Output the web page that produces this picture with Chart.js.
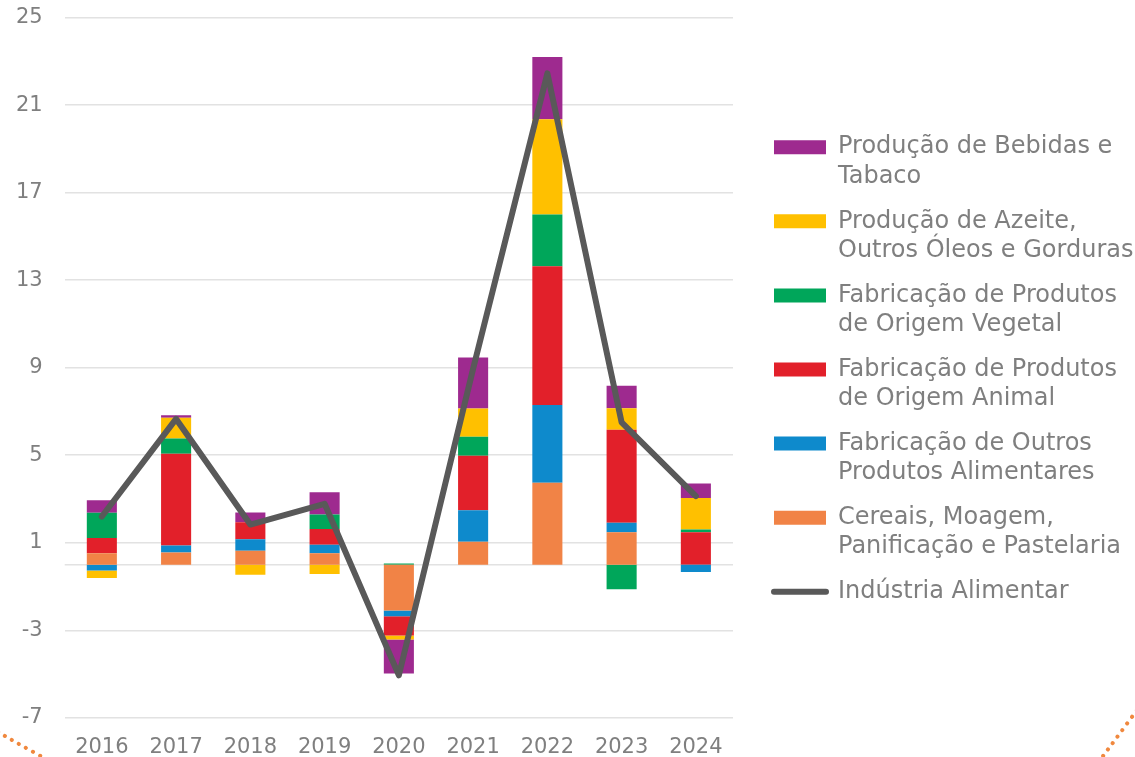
<!DOCTYPE html>
<html>
<head>
<meta charset="utf-8">
<script src="https://cdn.jsdelivr.net/npm/chart.js@4.4.1/dist/chart.umd.min.js"></script>
<style>
  html, body { margin: 0; padding: 0; background: #ffffff; }
  #wrap { width: 1135px; height: 757px; position: relative; }
</style>
</head>
<body>
<div id="wrap"><canvas id="grafico"></canvas></div>
<script>
// Dados (taxas de variação, %)
const anos = ['2016', '2017', '2018', '2019', '2020', '2021', '2022', '2023', '2024'];

const cereais  = [0.52, 0.56, 0.63, 0.52, -2.10, 1.04, 3.74, 1.48, 0.00];
const outros   = [-0.27, 0.31, 0.53, 0.39, -0.26, 1.45, 3.55, 0.43, -0.34];
const animal   = [0.70, 4.20, 0.78, 0.72, -0.88, 2.49, 6.35, 4.25, 1.48];
const vegetal  = [1.15, 0.69, 0.00, 0.66, 0.05, 0.87, 2.36, -1.12, 0.12];
const azeite   = [-0.34, 0.95, -0.46, -0.43, -0.18, 1.28, 4.36, 0.99, 1.45];
const bebidas  = [0.57, 0.12, 0.44, 1.02, -1.56, 2.34, 2.84, 1.02, 0.66];
const industria = [2.20, 6.66, 1.83, 2.78, -5.06, 8.95, 22.45, 6.50, 3.13];

const yTicks = [-7, -3, 1, 5, 9, 13, 17, 21, 25];

const nomes = {
  cereais: ['Cereais, Moagem,', 'Panificação e Pastelaria'],
  outros: ['Fabricação de Outros', 'Produtos Alimentares'],
  animal: ['Fabricação de Produtos', 'de Origem Animal'],
  vegetal: ['Fabricação de Produtos', 'de Origem Vegetal'],
  azeite: ['Produção de Azeite,', 'Outros Óleos e Gorduras'],
  bebidas: ['Produção de Bebidas e', 'Tabaco'],
  industria: ['Indústria Alimentar']
};

const cores = {
  cereais: '#F18346',
  outros: '#0E8ACC',
  animal: '#E2202A',
  vegetal: '#00A65A',
  azeite: '#FFC000',
  bebidas: '#9E2A8F',
  industria: '#595959'
};

const FONTE = "'DejaVu Sans', sans-serif";
const CINZA = '#7f7f7f';
const GRELHA = '#e2e2e2';

// posição da legenda
const LARG_LEGENDA = 402;
const DESVIO_LEGENDA = 25;
const SUBIR_LEGENDA = 19;

function barra(chave, dados) {
  return {
    type: 'bar',
    label: nomes[chave].join(' '),
    linhas: nomes[chave],
    data: dados,
    backgroundColor: cores[chave],
    borderWidth: 0,
    stack: 'barras',
    order: 1,
    barPercentage: 0.405,
    categoryPercentage: 1
  };
}

// legenda mais larga, com espaço à esquerda
const ajusteLegenda = {
  id: 'ajusteLegenda',
  beforeLayout(chart) {
    const lg = chart.legend;
    if (lg && !lg._ajustado) {
      const fitOrig = lg.fit.bind(lg);
      lg.fit = function() {
        fitOrig();
        this.width = LARG_LEGENDA;
      };
      lg._ajustado = true;
    }
  },
  afterLayout(chart) {
    const lg = chart.legend;
    lg.left += DESVIO_LEGENDA;
    lg.right += DESVIO_LEGENDA;
    lg.top -= SUBIR_LEGENDA;
    lg.bottom -= SUBIR_LEGENDA;
  }
};

// linha do zero e arcos decorativos
const extras = {
  id: 'extras',
  beforeDatasetsDraw(chart) {
    const { ctx, chartArea, scales } = chart;
    const y0 = scales.y.getPixelForValue(0);
    ctx.save();
    ctx.strokeStyle = GRELHA;
    ctx.lineWidth = 1.5;
    ctx.beginPath();
    ctx.moveTo(chartArea.left, y0);
    ctx.lineTo(chartArea.right, y0);
    ctx.stroke();
    ctx.restore();
  },
  afterDraw(chart) {
    const { ctx } = chart;
    ctx.save();
    ctx.strokeStyle = '#F0883E';
    ctx.lineWidth = 4;
    ctx.lineCap = 'round';
    ctx.setLineDash([0.1, 8]);
    ctx.beginPath();
    ctx.moveTo(-2, 732);
    ctx.quadraticCurveTo(22, 746, 48, 760);
    ctx.stroke();
    ctx.beginPath();
    ctx.moveTo(1137, 710);
    ctx.quadraticCurveTo(1118, 736, 1100, 760);
    ctx.stroke();
    ctx.restore();
  }
};

const ctx = document.getElementById('grafico').getContext('2d');
new Chart(ctx, {
  data: {
    labels: anos,
    datasets: [
      barra('cereais', cereais),
      barra('outros', outros),
      barra('animal', animal),
      barra('vegetal', vegetal),
      barra('azeite', azeite),
      barra('bebidas', bebidas),
      {
        type: 'line',
        label: nomes.industria[0],
        linhas: nomes.industria,
        data: industria,
        borderColor: cores.industria,
        backgroundColor: cores.industria,
        borderWidth: 6,
        borderCapStyle: 'round',
        borderJoinStyle: 'round',
        pointRadius: 0,
        tension: 0,
        stack: 'linha',
        order: 0
      }
    ]
  },
  options: {
    responsive: true,
    maintainAspectRatio: false,
    animation: false,
    layout: { padding: { left: 11, top: 0, right: 0, bottom: -20 } },
    plugins: {
      tooltip: { enabled: false },
      legend: {
        position: 'right',
        align: 'center',
        maxWidth: 600,
        labels: {
          usePointStyle: true,
          pointStyleWidth: 52,
          boxHeight: 14,
          padding: 16,
          color: CINZA,
          font: { family: FONTE, size: 24, lineHeight: 1.21 },
          generateLabels(chart) {
            const itens = Chart.defaults.plugins.legend.labels.generateLabels(chart);
            itens.forEach(item => {
              const ds = chart.data.datasets[item.datasetIndex];
              item.text = ds.linhas.length > 1 ? ds.linhas : ds.linhas[0];
              if (ds.type === 'line') {
                item.pointStyle = 'line';
                item.lineWidth = 6;
                item.lineCap = 'round';
                item.strokeStyle = cores.industria;
              } else {
                item.pointStyle = 'rect';
                item.lineWidth = 0;
              }
            });
            return itens;
          },
          sort(a, b) {
            const chave = i => (i.datasetIndex === 6 ? 99 : 5 - i.datasetIndex);
            return chave(a) - chave(b);
          }
        }
      }
    },
    scales: {
      x: {
        stacked: true,
        grid: { display: false, drawTicks: false },
        border: { display: false },
        ticks: { color: CINZA, font: { family: FONTE, size: 21 }, padding: 17 }
      },
      y: {
        stacked: true,
        min: yTicks[0],
        max: yTicks[yTicks.length - 1],
        afterBuildTicks(scale) {
          scale.ticks = yTicks.map(v => ({ value: v }));
        },
        grid: { color: GRELHA, lineWidth: 1.5, drawTicks: true, tickLength: 17, tickColor: 'rgba(0,0,0,0)' },
        border: { display: false },
        ticks: { color: CINZA, font: { family: FONTE, size: 21 }, padding: 5 }
      }
    }
  },
  plugins: [ajusteLegenda, extras]
});
</script>
</body>
</html>
